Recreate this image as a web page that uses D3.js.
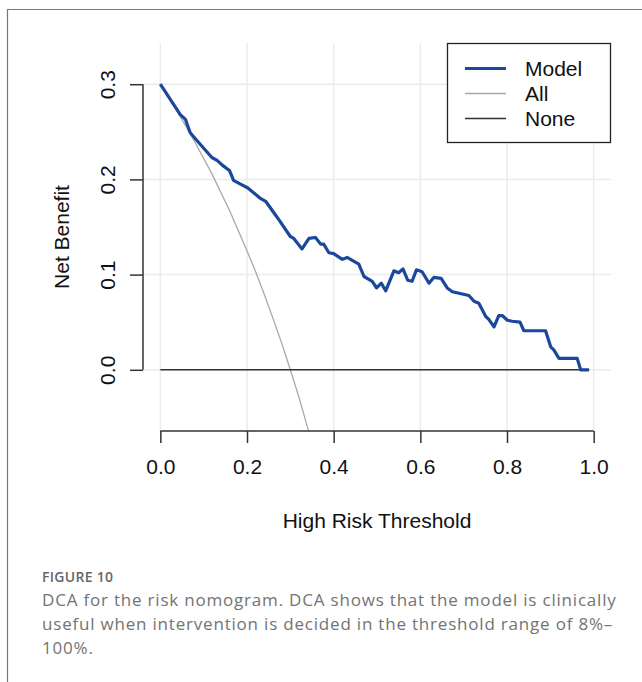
<!DOCTYPE html>
<html>
<head>
<meta charset="utf-8">
<script src="https://cdn.jsdelivr.net/npm/d3@7"></script>
<style>
  html, body { margin: 0; padding: 0; background: #fff; }
  svg { display: block; }
</style>
</head>
<body>
<svg id="chart"></svg>
<script>
// ── data ────────────────────────────────────────────────────────────────
const modelThreshold = [0, 0.046, 0.058, 0.069, 0.092, 0.119, 0.131, 0.143, 0.160, 0.169,
  0.185, 0.202, 0.223, 0.231, 0.243, 0.262, 0.273, 0.300, 0.308, 0.327,
  0.343, 0.358, 0.370, 0.377, 0.389, 0.400, 0.420, 0.431, 0.458, 0.470,
  0.489, 0.499, 0.510, 0.520, 0.539, 0.550, 0.560, 0.571, 0.581, 0.591,
  0.604, 0.620, 0.631, 0.648, 0.662, 0.674, 0.712, 0.724, 0.735, 0.751,
  0.758, 0.770, 0.781, 0.789, 0.801, 0.812, 0.830, 0.839, 0.889, 0.901,
  0.908, 0.920, 0.962, 0.970, 0.989];
const modelBenefit = [0.300, 0.268, 0.263, 0.249, 0.237, 0.223, 0.220, 0.215, 0.209, 0.199,
  0.195, 0.191, 0.183, 0.180, 0.177, 0.165, 0.158, 0.140, 0.138, 0.127,
  0.138, 0.139, 0.132, 0.132, 0.123, 0.122, 0.116, 0.118, 0.111, 0.098,
  0.093, 0.086, 0.091, 0.083, 0.104, 0.102, 0.106, 0.094, 0.093, 0.105,
  0.103, 0.091, 0.097, 0.096, 0.086, 0.082, 0.078, 0.072, 0.070, 0.056,
  0.053, 0.045, 0.057, 0.057, 0.052, 0.051, 0.050, 0.041, 0.041, 0.024,
  0.021, 0.012, 0.012, 0.000, 0.000];

const allThreshold = [0, 0.02, 0.04, 0.06, 0.08, 0.10, 0.12, 0.14, 0.16, 0.18,
  0.20, 0.22, 0.24, 0.26, 0.28, 0.30, 0.32, 0.34, 0.35];
const allBenefit = [0.300, 0.286, 0.271, 0.255, 0.239, 0.222, 0.205, 0.186, 0.167, 0.146,
  0.125, 0.103, 0.079, 0.054, 0.028, 0.000, -0.029, -0.061, -0.077];

const noneThreshold = [0, 0.99];
const noneBenefit = [0, 0];

const xTicks = [0, 0.2, 0.4, 0.6, 0.8, 1.0];
const yTicks = [0, 0.1, 0.2, 0.3];
const legendLabels = ["Model", "All", "None"];
const captionLines = [
  "DCA for the risk nomogram. DCA shows that the model is clinically",
  "useful when intervention is decided in the threshold range of 8%–",
  "100%."
];

// ── geometry ────────────────────────────────────────────────────────────
const W = 642, H = 682;
const plot = { left: 143, right: 611, top: 43, bottom: 431 };

const svg = d3.select("#chart").attr("width", W).attr("height", H);

// frame round the figure
svg.append("path")
  .attr("d", `M7.5,${H} V9.5 H${W}`)
  .attr("fill", "none")
  .attr("stroke", "#777")
  .attr("stroke-width", 1.2);

const x = d3.scaleLinear().domain([-0.04, 1.04]).range([plot.left, plot.right]);
const y = d3.scaleLinear().domain([-0.0643, 0.3433]).range([plot.bottom, plot.top]);

const font = "'Liberation Sans', Arial, sans-serif";

// ── grid ──
const grid = svg.append("g");
grid.selectAll(".vgrid").data(xTicks).join("line")
  .attr("x1", d => x(d)).attr("x2", d => x(d))
  .attr("y1", plot.top).attr("y2", plot.bottom)
  .attr("stroke", "#ebebeb").attr("stroke-width", 1.5);
grid.selectAll(".hgrid").data(yTicks).join("line")
  .attr("x1", plot.left).attr("x2", plot.right)
  .attr("y1", d => y(d)).attr("y2", d => y(d))
  .attr("stroke", "#ebebeb").attr("stroke-width", 1.5);

// clip to plot region
svg.append("clipPath").attr("id", "clip")
  .append("rect")
  .attr("x", plot.left).attr("y", plot.top)
  .attr("width", plot.right - plot.left).attr("height", plot.bottom - plot.top);

const line = d3.line().x(d => x(d[0])).y(d => y(d[1]));
const lines = svg.append("g").attr("clip-path", "url(#clip)");

lines.append("path")
  .datum(d3.zip(allThreshold, allBenefit))
  .attr("d", line)
  .attr("fill", "none").attr("stroke", "#a8a8a8").attr("stroke-width", 1.3);

lines.append("path")
  .datum(d3.zip(noneThreshold, noneBenefit))
  .attr("d", line)
  .attr("fill", "none").attr("stroke", "#333").attr("stroke-width", 1.6);

lines.append("path")
  .datum(d3.zip(modelThreshold, modelBenefit))
  .attr("d", line)
  .attr("fill", "none").attr("stroke", "#1b479c").attr("stroke-width", 3.2)
  .attr("stroke-linejoin", "round");

// ── axes ──
const xAxisG = svg.append("g")
  .attr("transform", `translate(0,${plot.bottom})`)
  .call(d3.axisBottom(x).tickValues(xTicks).tickFormat(d3.format(".1f")).tickSize(12).tickPadding(16).tickSizeOuter(0));
xAxisG.select(".domain").attr("d", `M${x(0)},0H${x(1)}`);

const yAxisG = svg.append("g")
  .attr("transform", `translate(${plot.left},0)`)
  .call(d3.axisLeft(y).tickValues(yTicks).tickFormat(d3.format(".1f")).tickSize(13).tickSizeOuter(0));
yAxisG.select(".domain").attr("d", `M0,${y(0)}V${y(0.3)}`);

[xAxisG, yAxisG].forEach(a => {
  a.selectAll("line,path").attr("stroke", "#333").attr("stroke-width", 1.5);
  a.selectAll("text").attr("fill", "#111").style("font-family", font).style("font-size", "21px");
});

yAxisG.selectAll(".tick text")
  .attr("x", null).attr("dy", null)
  .attr("text-anchor", "middle")
  .attr("transform", "translate(-35,0) rotate(-90)")
  .attr("dy", "0.35em");

// axis titles
svg.append("text")
  .attr("x", (plot.left + plot.right) / 2).attr("y", 528)
  .attr("text-anchor", "middle")
  .style("font-family", font).style("font-size", "21px").attr("fill", "#111")
  .text("High Risk Threshold");

svg.append("text")
  .attr("transform", `translate(69,${(plot.top + plot.bottom) / 2}) rotate(-90)`)
  .attr("text-anchor", "middle")
  .style("font-family", font).style("font-size", "21px").attr("fill", "#111")
  .text("Net Benefit");

// ── legend ──
const legend = svg.append("g");
legend.append("rect")
  .attr("x", 447.5).attr("y", 43.5).attr("width", 163).attr("height", 99)
  .attr("fill", "#fff").attr("stroke", "#222").attr("stroke-width", 1.3);

const legendStyle = [
  { color: "#1b479c", width: 3 },
  { color: "#a8a8a8", width: 1.3 },
  { color: "#333", width: 1.6 }
];
legendLabels.forEach((lab, i) => {
  const ly = 68.5 + i * 25;
  legend.append("line")
    .attr("x1", 465).attr("x2", 506).attr("y1", ly).attr("y2", ly)
    .attr("stroke", legendStyle[i].color).attr("stroke-width", legendStyle[i].width);
  legend.append("text")
    .attr("x", 525).attr("y", ly).attr("dy", "0.35em")
    .style("font-family", font).style("font-size", "21px").attr("fill", "#111")
    .text(lab);
});

// ── caption ──
svg.append("text")
  .attr("x", 42).attr("y", 582)
  .style("font-family", "'Open Sans', sans-serif").style("font-size", "14px")
  .style("font-weight", "600").style("letter-spacing", "0.3px").attr("fill", "#666")
  .text("FIGURE 10");

svg.selectAll(".cap").data(captionLines).join("text")
  .attr("x", 42).attr("y", (d, i) => 606 + i * 24)
  .style("font-family", "'Open Sans', sans-serif").style("font-size", "17px")
  .style("letter-spacing", "0.8px")
  .attr("fill", "#737373")
  .text(d => d);
</script>
</body>
</html>
